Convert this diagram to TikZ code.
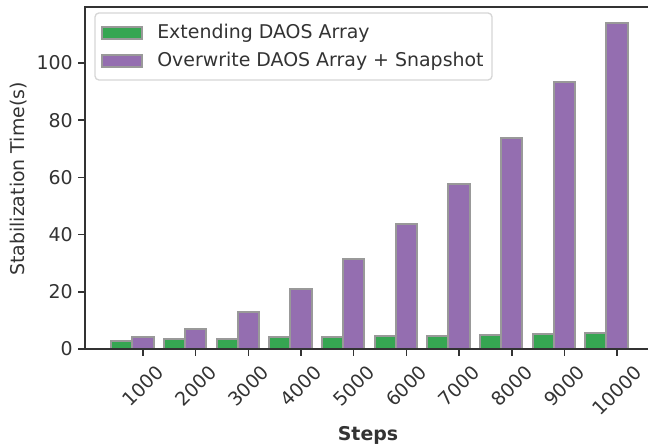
\documentclass[tikz,border=0pt]{standalone}
\usepackage{fontspec}
\setmainfont{DejaVu Sans}

\definecolor{barGreen}{RGB}{54,166,82}
\definecolor{barPurple}{RGB}{148,110,176}
\definecolor{barEdge}{RGB}{153,153,153}
\definecolor{spineGrey}{RGB}{51,51,51}
\definecolor{legendEdge}{RGB}{214,214,214}

\tikzset{
	bar/.style={draw=barEdge, line width=1.5pt},
	spine/.style={draw=spineGrey, line width=1.7pt, line cap=rect},
	tickmark/.style={draw=spineGrey, line width=1.2pt},
	plotlabel/.style={font=\fontsize{14.2}{17}\selectfont, text=spineGrey, inner sep=0pt},
}

\begin{document}
\begin{tikzpicture}[x=0.75pt,y=-0.75pt]
	\useasboundingbox (0,0) rectangle (648,448);
	% bars, in data units
	\begin{scope}[shift={(67.75pt,-261.75pt)}, x=39.5pt, y=2.145pt]
		\foreach \k/\g/\p in {1/2.8/4.2, 2/3.4/7.0, 3/3.6/12.8, 4/4.1/21.0, 5/4.2/31.3,
			6/4.4/43.8, 7/4.6/57.7, 8/5.0/73.8, 9/5.3/93.4, 10/5.5/114.0} {
			\draw [bar, fill=barGreen] (\k-0.6,0) rectangle (\k-0.2,\g) ;
			\draw [bar, fill=barPurple] (\k-0.2,0) rectangle (\k+0.2,\p) ;
		}
	\end{scope}
	% spines
	\draw [spine] (85,349) -- (85,7) -- (648,7) ;
	\draw [spine] (85,349) -- (648,349) ;
	% y ticks
	\foreach \v in {0,20,...,100} {
		\draw [tickmark] (78,349-2.86*\v) -- (85,349-2.86*\v) ;
		\node [plotlabel, anchor=east] (ytick\v) at (73,349-2.86*\v) {\v} ;
	}
	% x ticks
	\foreach \k in {1,...,9} {
		\draw [tickmark] (90.33+52.67*\k,349) -- (90.33+52.67*\k,356) ;
		\node [plotlabel, rotate=45] (xtick\k) at (90.33+52.67*\k,386) {\k000} ;
	}
	\draw [tickmark] (617,349) -- (617,356) ;
	\node [plotlabel, rotate=45] (xtick10) at (617,390.5) {10000} ;
	% axis labels
	\node [plotlabel, font=\fontsize{14.2}{17}\selectfont\bfseries] (xlabel) at (368,435) {Steps} ;
	\node [plotlabel, rotate=90] (ylabel) at (18.5,179) {Stabilization Time(s)} ;
	% legend
	\draw [legendEdge, fill=white, line width=1pt, rounded corners=3pt] (95,13) rectangle (492,80) ;
	\draw [bar, fill=barGreen] (102,27) rectangle (142,39) ;
	\draw [bar, fill=barPurple] (102,55) rectangle (142,67) ;
	\node [plotlabel, anchor=west] (legendA) at (157,33) {Extending DAOS Array} ;
	\node [plotlabel, anchor=west] (legendB) at (157,61) {Overwrite DAOS Array + Snapshot} ;
\end{tikzpicture}
\end{document}
